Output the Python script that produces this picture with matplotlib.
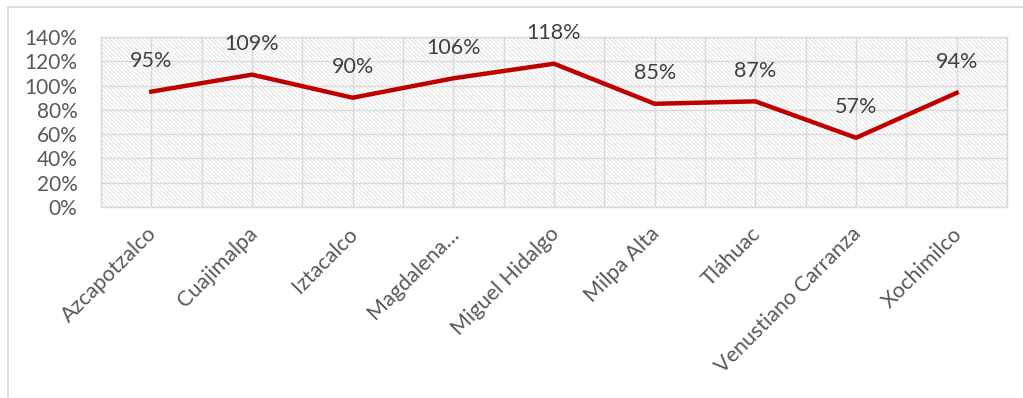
import matplotlib
matplotlib.use("Agg")
import matplotlib.pyplot as plt
from matplotlib.patches import Rectangle
import matplotlib.transforms as mtransforms
import numpy as np

categories = ["Azcapotzalco", "Cuajimalpa", "Iztacalco", "Magdalena…", "Miguel Hidalgo",
              "Milpa Alta", "Tláhuac", "Venustiano Carranza", "Xochimilco"]
values = [0.95, 1.09, 0.90, 1.06, 1.18, 0.85, 0.87, 0.57, 0.94]
y_ticks = [0, 0.2, 0.4, 0.6, 0.8, 1.0, 1.2, 1.4]
y_labels = ["0%", "20%", "40%", "60%", "80%", "100%", "120%", "140%"]

plt.rcParams['font.family'] = ['Lato', 'DejaVu Sans']
plt.rcParams['hatch.linewidth'] = 0.5

W, H = 1023, 398
fig = plt.figure(figsize=(W / 100, H / 100), dpi=100)
fig.patches.append(Rectangle((8 / W, -0.1), 1.2, 1 - 7 / H + 0.1, transform=fig.transFigure,
                             facecolor='none', edgecolor='#D9D9D9', linewidth=1.2, zorder=-1))

ax = fig.add_axes([101 / W, 1 - 207 / H, (1007 - 101) / W, (207 - 37) / H])
ax.set_facecolor('white')
ax.add_patch(Rectangle((0, 0), 1, 1, transform=ax.transAxes, facecolor='none',
                       edgecolor='#D9D9D9', linewidth=0, hatch='\\' * 8, zorder=0))

x = np.arange(len(categories))
ax.plot(x, values, color='#C00000', linewidth=3.2, solid_joinstyle='miter', zorder=3)

for xi, v in zip(x, values):
    ax.annotate(f"{round(v * 100)}%", (xi, v), xytext=(0, 22), textcoords='offset points',
                ha='center', va='center', fontsize=15.5, color='#404040', zorder=4)

ax.set_xlim(-0.5, len(categories) - 0.5)
ax.set_ylim(0, 1.4)
ax.tick_params(axis='both', which='both', length=0)
ax.tick_params(axis='x', pad=12)
ax.tick_params(axis='y', pad=17)
ax.set_xticks(x)
ax.set_xticks(np.arange(-0.5, len(categories), 1), minor=True)
ax.set_xticklabels(categories, rotation=45, ha='right', va='top', rotation_mode='anchor',
                   fontsize=15.5, color='#595959')
shift = mtransforms.ScaledTranslation(-5 / 100, 0, fig.dpi_scale_trans)
for lbl in ax.get_xticklabels():
    lbl.set_transform(lbl.get_transform() + shift)
ax.set_yticks(y_ticks)
ax.set_yticklabels(y_labels, fontsize=15, color='#595959')
ax.grid(True, which='both', color='#D9D9D9', linewidth=1)
ax.set_axisbelow(True)
for s in ax.spines.values():
    s.set_color('#D9D9D9')
    s.set_linewidth(1)

fig.savefig("out.png", dpi=100)
